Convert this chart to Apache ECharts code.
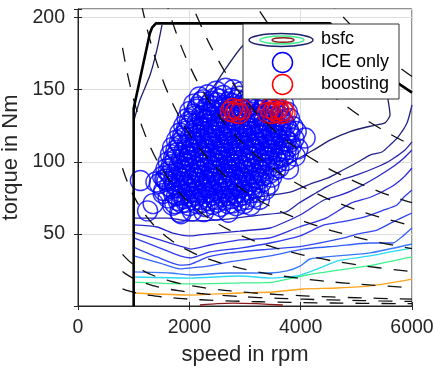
<!DOCTYPE html>
<html><head><meta charset="utf-8">
<script src="https://cdn.jsdelivr.net/npm/echarts@6/dist/echarts.min.js"></script>
<style>html,body{margin:0;padding:0;background:#fff}#c{width:434px;height:368px}</style>
</head><body><div id="c"></div>
<script>
// ---- axes ----
const xTicks = [0, 2000, 4000, 6000];
const yTicks = [50, 100, 150, 200];

// ---- full-load torque curve (rpm, Nm) ----
const maxTorque = [[1000,0],[1000,137],[1290,189],[1330,193],[1400,196],[4530,196],[4800,185],[5100,174],[5400,164.5],[5700,155.8],[6000,148]];

// ---- constant power lines (kW) ----
const powerLevels = [1, 2, 3, 8, 15, 25, 35, 45, 70, 100];
const powerSpeeds = [800,850,900,950,1000,1100,1200,1300,1400,1500,1600,1800,2000,2200,2500,2800,3100,3400,3800,4300,4800,5400,6000];

// ---- bsfc contour lines (rpm, Nm) ----
const bsfcC1 = [[1000,128],[1114,143],[1293,160],[1419,178],[1509,195]];
const bsfcC2 = [[2317,145],[2641,164],[2946,180],[3269,190],[3988,191],[4886,188],[5425,171],[5569,143],[5605,132.5],[5515,127],[5281,125],[4886,121],[4527,115],[4222,108],[3988,103],[3629,96],[3090,93],[2551,101],[2192,122],[2317,145]];
const bsfcLb = [[3100,75],[3808,79],[4168,84.6],[4491,88.8],[4760,94.3],[5030,99.9],[5245,104.7],[5461,106.8],[5605,111.7],[5748,117.2],[5910,126.9],[6000,139.4]];
const bsfcD = [[1000,61],[1599,61],[2012,59],[2695,60.3],[3251,63.1],[3737,65.2],[3970,71.4],[4275,78.4],[4455,82.5],[4725,87.4],[5012,90.9],[5371,96.4],[5623,101.3],[5874,108.2],[6000,113.8]];
const bsfcE = [[1000,56.2],[1419,54.8],[1707,50.6],[2030,48.6],[2317,49.9],[2910,52],[3449,54.1],[3988,63.1],[4419,73.5],[4725,77],[5012,81.8],[5371,89.5],[5677,97.1],[5856,102.7],[6000,108.2]];
const bsfcX = [[1000,51.3],[1473,45.8],[1832,41.6],[2030,39.5],[2371,42.3],[2910,45.8],[3449,47.2],[3970,54.8],[4455,61],[4904,71.4],[5263,75.6],[5623,82.5],[5856,89.5],[6000,95.7]];
const bsfcF = [[1000,47.2],[1473,40.2],[1832,34.7],[2030,33.3],[2371,37.5],[2910,40.2],[3449,43.7],[3988,48.6],[4419,56.2],[4725,58.3],[5138,61.7],[5497,66.6],[5731,70.1],[5856,75.6],[6000,80.5]];
const bsfcG = [[1000,40.9],[1419,34],[1832,28.4],[2030,29.1],[2335,34],[2731,36.8],[3449,39.5],[4042,41.6],[4778,47.2],[5012,49.9],[5371,52.7],[5623,57.6],[5802,61],[6000,64.5]];
const bsfcLB2 = [[1000,34.7],[1473,29.8],[1832,25.7],[2030,26.4],[2335,27.7],[2695,30.5],[3449,34.7],[4042,39.5],[4653,41.6],[5245,43.7],[5659,43.7],[5838,48.6],[6000,54.1]];
const bsfcH = [[1000,23.6],[1653,22.9],[2030,21.5],[2695,22.9],[3449,22.9],[3754,24.3],[3988,27.7],[4168,32.6],[4653,34.7],[5245,36.8],[6000,43]];
const bsfcCyan = [[1000,20.1],[2012,19.4],[2910,20.8],[3449,19.4],[3934,20.8],[4347,26.4],[4653,31.2],[5245,34.7],[5605,37.5],[6000,40.2]];
const bsfcGreen = [[1000,16.6],[2030,15.3],[2910,16],[3503,16.6],[4114,21.5],[4707,25],[5299,28.4],[6000,34]];
const bsfcOrange = [[1000,9],[2030,7.6],[2910,9],[3503,9.7],[4042,11.8],[4653,12.5],[5245,13.9],[6000,18.7]];
const bsfcRed = [[2190,0.7],[2500,1.6],[2780,2],[3200,1.6],[3680,0.7]];

// ---- operating points (rpm, Nm) ----
const iceOnly = [
[2480,149],[2650,151],[2790,150],[2930,148.5],
[2180,145],[2330,146.5],[2470,144.5],[2610,146],[2760,144],[2900,145.5],[3050,144],[3200,145],[3380,143.5],[3560,144.5],
[2080,140],[2210,141.5],[2350,139.5],[2490,141],[2630,139],[2770,140.5],[2910,139],[3060,141],[3210,139.5],[3370,140.5],[3530,139],[3690,140],
[2010,135],[2140,136.5],[2280,134.5],[2420,136],[2560,134],[2700,135.5],[2840,134],[2990,136],[3140,134.5],[3290,135.5],[3440,134],[3600,135.5],[3760,134.5],
[1960,130],[2090,131.5],[2230,129.5],[2370,131],[2510,129],[2650,130.5],[2790,129],[2930,131],[3070,129.5],[3210,131],[3350,129],[3500,130.5],[3650,129],[3800,130],
[1900,125],[2030,126.5],[2170,124.5],[2310,126],[2450,124],[2590,125.5],[2730,124],[2870,126],[3010,124.5],[3150,126],[3290,124],[3430,125.5],[3580,124],[3730,125.5],[3860,124.5],
[1830,120],[1960,121.5],[2100,119.5],[2240,121],[2380,119],[2520,120.5],[2660,119],[2800,121],[2940,119.5],[3080,121],[3220,119],[3360,120.5],[3500,119],[3650,120.5],[3800,119.5],[3920,121],
[1770,115],[1900,116.5],[2040,114.5],[2180,116],[2320,114],[2460,115.5],[2600,114],[2740,116],[2880,114.5],[3020,116],[3160,114],[3300,115.5],[3440,114],[3590,115.5],[3740,114.5],[3880,116],[4080,116.5],
[1700,110],[1840,111.5],[1980,109.5],[2120,111],[2260,109],[2400,110.5],[2540,109],[2680,111],[2820,109.5],[2960,111],[3100,109],[3240,110.5],[3380,109],[3530,110.5],[3680,109.5],[3830,111],[3950,109],
[1660,105],[1790,106.5],[1930,104.5],[2070,106],[2210,104],[2350,105.5],[2490,104],[2630,106],[2770,104.5],[2910,106],[3050,104],[3190,105.5],[3330,104],[3480,105.5],[3630,104.5],[3780,106],[3900,104],
[1620,100],[1750,101.5],[1890,99.5],[2030,101],[2170,99],[2310,100.5],[2450,99],[2590,101],[2730,99.5],[2870,101],[3010,99],[3150,100.5],[3290,99],[3440,100.5],[3590,99.5],[3740,101],
[1580,95],[1710,96.5],[1850,94.5],[1990,96],[2130,94],[2270,95.5],[2410,94],[2550,96],[2690,94.5],[2830,96],[2970,94],[3110,95.5],[3250,94],[3400,95.5],[3550,94.5],[3610,96],[3780,95],
[1520,90],[1660,91.5],[1800,89.5],[1940,91],[2080,89],[2220,90.5],[2360,89],[2500,91],[2640,89.5],[2780,91],[2920,89],[3060,90.5],[3200,89],[3340,90.5],[3480,89.5],
[1460,85],[1600,86.5],[1740,84.5],[1880,86],[2020,84],[2160,85.5],[2300,84],[2440,86],[2580,84.5],[2720,86],[2860,84],[3000,85.5],[3140,84],[3290,85.5],[3430,84.5],
[1540,80],[1690,81.5],[1830,79.5],[1970,81],[2110,79],[2250,80.5],[2390,79],[2530,81],[2670,79.5],[2810,81],[2950,79],[3090,80.5],[3240,79],[3360,80.5],
[1620,75],[1770,76.5],[1910,74.5],[2050,76],[2190,74],[2330,75.5],[2470,74],[2610,76],[2750,74.5],[2890,76],[3030,74],[3170,75.5],[3260,74],
[1700,70],[1860,71.5],[2000,69.5],[2140,71],[2280,69],[2420,70.5],[2560,69],[2700,71],[2840,69.5],[2980,71],[3100,70],
[1830,65],[2050,66],[2260,65.5],[2480,66.5],[2700,65],
[1120,87],[1350,71],[1250,66],[1530,78],[1400,86],[1740,71],[1850,64],[1560,88],
[2250,143],[2400,142],[2550,143.5],[2700,141.5],[2850,143],[3000,142],[3150,143.5],
[2150,138],[2300,137],[2450,138.5],[2600,136.5],[2750,138],[2900,137],[3050,138.5],[3200,136.5],[3350,138],[3500,137],
[2080,133],[2220,132],[2360,133.5],[2500,131.5],[2640,133],[2780,132],[2920,133.5],[3060,131.5],[3200,133],[3340,132],[3480,133.5],[3620,131.5],
[2000,128],[2140,127],[2280,128.5],[2420,126.5],[2560,128],[2700,127],[2840,128.5],[2980,126.5],[3120,128],[3260,127],[3400,128.5],[3540,126.5],[3690,128],
[1950,123],[2090,122],[2230,123.5],[2370,121.5],[2510,123],[2650,122],[2790,123.5],[2930,121.5],[3070,123],[3210,122],[3350,123.5],[3490,121.5],[3640,123],[3780,122],
[1880,118],[2020,117],[2160,118.5],[2300,116.5],[2440,118],[2580,117],[2720,118.5],[2860,116.5],[3000,118],[3140,117],[3280,118.5],[3420,116.5],[3560,118],[3710,117],
[1820,113],[1960,112],[2100,113.5],[2240,111.5],[2380,113],[2520,112],[2660,113.5],[2800,111.5],[2940,113],[3080,112],[3220,113.5],[3360,111.5],[3500,113],[3650,112],[3800,113.5],
[1760,108],[1900,107],[2040,108.5],[2180,106.5],[2320,108],[2460,107],[2600,108.5],[2740,106.5],[2880,108],[3020,107],[3160,108.5],[3300,106.5],[3440,108],[3590,107],[3740,108.5],
[1720,103],[1860,102],[2000,103.5],[2140,101.5],[2280,103],[2420,102],[2560,103.5],[2700,101.5],[2840,103],[2980,102],[3120,103.5],[3260,101.5],[3400,103],[3550,102],[3690,103.5],
[1680,98],[1820,97],[1960,98.5],[2100,96.5],[2240,98],[2380,97],[2520,98.5],[2660,96.5],[2800,98],[2940,97],[3080,98.5],[3220,96.5],[3360,98],[3500,97],
[1620,93],[1760,92],[1900,93.5],[2040,91.5],[2180,93],[2320,92],[2460,93.5],[2600,91.5],[2740,93],[2880,92],[3020,93.5],[3160,91.5],[3300,93],[3440,92],
[1580,88],[1720,87],[1860,88.5],[2000,86.5],[2140,88],[2280,87],[2420,88.5],[2560,86.5],[2700,88],[2840,87],[2980,88.5],[3120,86.5],[3260,88],
[1640,83],[1780,82],[1920,83.5],[2060,81.5],[2200,83],[2340,82],[2480,83.5],[2620,81.5],[2760,83],[2900,82],[3040,83.5],[3180,81.5],
[1720,78],[1860,77],[2000,78.5],[2140,76.5],[2280,78],[2420,77],[2560,78.5],[2700,76.5],[2840,78],[2980,77],[3120,78.5],
[1800,73],[1940,72],[2080,73.5],[2220,71.5],[2360,73],[2500,72],[2640,73.5],[2780,71.5],[2920,73]
];
const boosting = [[2740,135],[2780,137],[2820,134],[2860,136],[2900,133.5],[2940,136.5],[3400,134],[3440,137],[3480,133.5],[3520,136],[3560,134.5],[3600,137],[3640,133.5],[3680,135.5],[3720,134]];

// ---- build ----
const FONT = "'Liberation Sans', Arial, Helvetica, sans-serif";
const AX = '#262626';
const contourDefs = [
  [bsfcC1,'#1f1f70'],[bsfcC2,'#1f1f70'],[bsfcLb,'#222290'],[bsfcD,'#2424aa'],[bsfcE,'#2828c8'],
  [bsfcX,'#2c30e0'],[bsfcF,'#2f3cee'],[bsfcG,'#3048f4'],[bsfcLB2,'#3460f8'],[bsfcH,'#3878fa'],
  [bsfcCyan,'#2ad8f2'],[bsfcGreen,'#3ef08a'],[bsfcOrange,'#ffa41c'],[bsfcRed,'#8b1a1a']
];
const series = [];
contourDefs.forEach(([d,c]) => series.push({
  type:'line', data:d, symbol:'none', smooth:0.2, z:2, silent:true,
  lineStyle:{color:c, width:1.3}
}));
series.push({type:'scatter', name:'ICE only', data:iceOnly, symbol:'circle', symbolSize:20, z:3, silent:true,
  itemStyle:{color:'rgba(0,0,0,0)', borderColor:'#0000ff', borderWidth:1.4}});
series.push({type:'scatter', name:'boosting', data:boosting, symbol:'circle', symbolSize:20, z:4, silent:true,
  itemStyle:{color:'rgba(0,0,0,0)', borderColor:'#ff0000', borderWidth:1.4}});
powerLevels.forEach(p => {
  const d = powerSpeeds.map(n => [n, p*60000/(2*Math.PI*n)]).filter(q => q[1] < 320);
  series.push({type:'line', data:d, symbol:'none', smooth:true, z:5, silent:true,
    lineStyle:{color:'#111', width:1.3, type:[14,12]}});
});
series.push({type:'line', data:maxTorque, symbol:'none', z:6, silent:true,
  lineStyle:{color:'#000', width:2.6}});

const chart = echarts.init(document.getElementById('c'), null, {renderer:'canvas'});
chart.setOption({
  animation:false,
  backgroundColor:'#fff',
  grid:{left:78, top:9, width:334, height:297, show:true, borderColor:AX, borderWidth:1, backgroundColor:'#fff',
        containLabel:false, outerBoundsMode:'none'},
  xAxis:[{
    type:'value', min:xTicks[0], max:xTicks[xTicks.length-1], interval:2000,
    axisLine:{show:true, lineStyle:{color:AX}}, axisTick:{show:true, inside:true, length:4, lineStyle:{color:AX}},
    axisLabel:{fontSize:19.5, color:AX, margin:12, fontFamily:FONT, formatter: v => String(v)},
    splitLine:{show:true, lineStyle:{color:'#dedede', width:1}},
    name:'speed in rpm', nameLocation:'middle', nameGap:38,
    nameTextStyle:{fontSize:22, color:AX, fontFamily:FONT}
  },{
    type:'value', position:'top', min:0, max:6000, interval:2000,
    axisLine:{show:true, lineStyle:{color:AX}}, axisTick:{show:true, inside:true, length:4, lineStyle:{color:AX}},
    axisLabel:{show:false}, splitLine:{show:false}
  }],
  yAxis:[{
    type:'value', min:0, max:206, interval:50,
    axisLine:{show:true, lineStyle:{color:AX}}, axisTick:{show:true, inside:true, length:4, lineStyle:{color:AX}},
    axisLabel:{fontSize:19.5, color:AX, margin:13, fontFamily:FONT,
      formatter: v => yTicks.indexOf(v) >= 0 ? String(v) : ''},
    splitLine:{show:true, lineStyle:{color:'#dedede', width:1}},
    name:'torque in Nm', nameLocation:'middle', nameGap:46,
    nameTextStyle:{fontSize:22, color:AX, fontFamily:FONT}
  },{
    type:'value', position:'right', min:0, max:206, interval:50,
    axisLine:{show:true, lineStyle:{color:AX}}, axisTick:{show:true, inside:true, length:4, lineStyle:{color:AX}},
    axisLabel:{show:false}, splitLine:{show:false}
  }],
  series: series,
  graphic:[
    {type:'rect', z:100, shape:{x:243, y:24, width:156, height:75}, style:{fill:'#fff', stroke:'#333', lineWidth:1}},
    {type:'ellipse', z:101, shape:{cx:281, cy:40, rx:32, ry:6.5}, style:{fill:'none', stroke:'#1f1f70', lineWidth:1.5}},
    {type:'ellipse', z:101, shape:{cx:282, cy:40, rx:22, ry:4}, style:{fill:'none', stroke:'#3ef08a', lineWidth:1.5}},
    {type:'ellipse', z:101, shape:{cx:283, cy:40, rx:11, ry:2.3}, style:{fill:'none', stroke:'#8b1a1a', lineWidth:1.5}},
    {type:'circle', z:101, shape:{cx:282.5, cy:62.5, r:10}, style:{fill:'none', stroke:'#0000ff', lineWidth:1.5}},
    {type:'circle', z:101, shape:{cx:282.5, cy:84.5, r:10}, style:{fill:'none', stroke:'#ff0000', lineWidth:1.5}},
    {type:'text', z:101, x:321, y:39, style:{text:'bsfc', fontSize:18, fontFamily:FONT, fill:'#000', verticalAlign:'middle'}},
    {type:'text', z:101, x:321, y:62, style:{text:'ICE only', fontSize:18, fontFamily:FONT, fill:'#000', verticalAlign:'middle'}},
    {type:'text', z:101, x:321, y:84, style:{text:'boosting', fontSize:18, fontFamily:FONT, fill:'#000', verticalAlign:'middle'}}
  ]
});
</script>
</body></html>
